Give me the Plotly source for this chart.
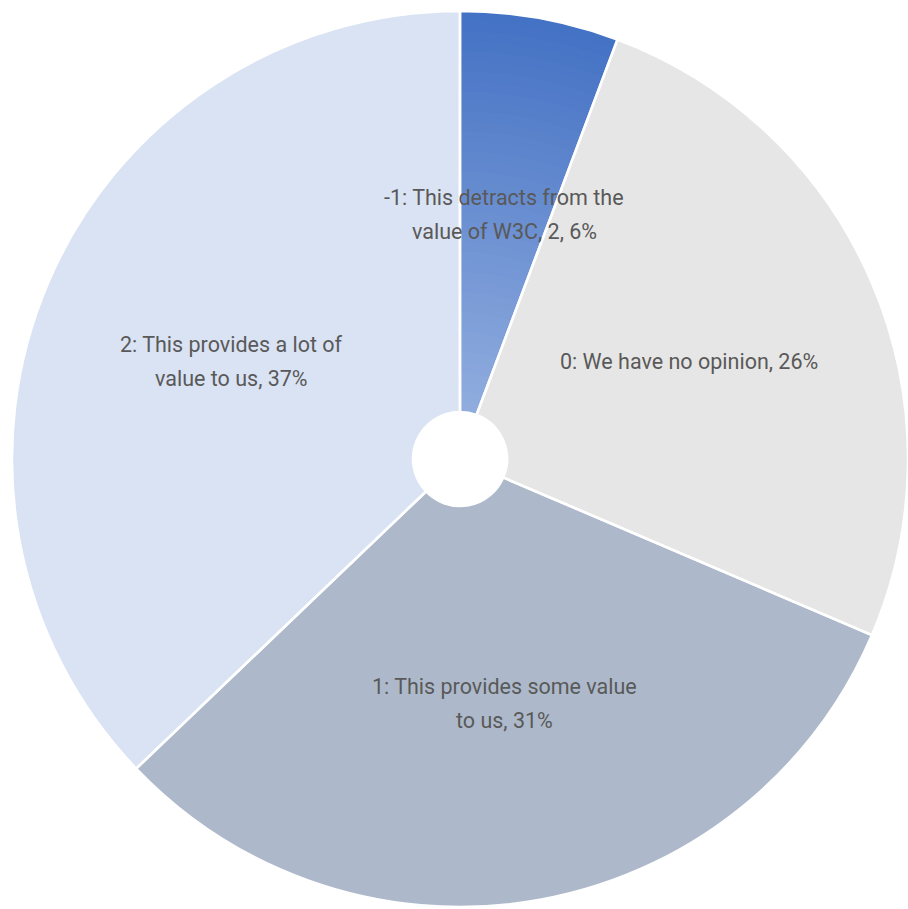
import math
import plotly.graph_objects as go

# Survey responses
labels = [
    "-1: This detracts from the value of W3C",
    "0: We have no opinion",
    "1: This provides some value to us",
    "2: This provides a lot of value to us",
]
counts = [2, 9, 11, 13]
label_lines = [
    ["-1: This detracts from the", "value of W3C, {n}, {p}%"],
    ["0: We have no opinion, {p}%"],
    ["1: This provides some value", "to us, {p}%"],
    ["2: This provides a lot of", "value to us, {p}%"],
]
slice_colors = ["#4472C4", "#E7E6E6", "#ADB9CA", "#DAE3F3"]
grad_top, grad_bottom = "#4472C4", "#90ACDE"

W, H = 908, 909
CX, CY, R = 460, 459, 448     # pie centre / radius in pixels
HOLE = 47                      # hole radius in pixels
LABEL_R = 249
LINE_GAP = 34
TEXT_COLOR = "#595959"
FONT = "Roboto"


def dom(r):
    return dict(x=[(CX - r) / W, (CX + r) / W],
                y=[1 - (CY + r) / H, 1 - (CY - r) / H])


def mix(c1, c2, t):
    a = [int(c1[i:i + 2], 16) for i in (1, 3, 5)]
    b = [int(c2[i:i + 2], 16) for i in (1, 3, 5)]
    return "rgb(%d,%d,%d)" % tuple(round(a[i] + (b[i] - a[i]) * t) for i in range(3))


common = dict(labels=labels, values=counts, sort=False, direction="clockwise",
              rotation=0, textinfo="none", hoverinfo="label+value+percent",
              showlegend=False)

fig = go.Figure()
# base pie
fig.add_trace(go.Pie(domain=dom(R), hole=HOLE / R,
                     marker=dict(colors=slice_colors, line=dict(color="white", width=0)),
                     **common))

# vertical-ish gradient on the first slice, drawn as thin rings
N = 40
clear = "rgba(0,0,0,0)"
for k in range(1, N):
    r = R - (R - HOLE) * k / N
    col = mix(grad_top, grad_bottom, k / (N - 1))
    fig.add_trace(go.Pie(domain=dom(r), hole=HOLE / r,
                         marker=dict(colors=[col, clear, clear, clear],
                                     line=dict(color=clear, width=0)),
                         **common))

# white separators on top
fig.add_trace(go.Pie(domain=dom(R), hole=HOLE / R,
                     marker=dict(colors=[clear] * 4, line=dict(color="white", width=2.5)),
                     **common))

# slice labels
total = sum(counts)
cum = 0
for n, lines in zip(counts, label_lines):
    mid = (cum + n / 2) / total * 2 * math.pi
    cum += n
    pct = round(100 * n / total)
    px = CX + LABEL_R * math.sin(mid)
    py = CY - LABEL_R * math.cos(mid)
    m = len(lines)
    for i, line in enumerate(lines):
        ly = py + (i - (m - 1) / 2) * LINE_GAP
        fig.add_annotation(x=px / W, y=1 - ly / H, xref="paper", yref="paper",
                           text=line.format(n=n, p=pct), showarrow=False,
                           xanchor="center", yanchor="middle",
                           font=dict(family=FONT, size=21.5, color=TEXT_COLOR))

fig.update_layout(width=W, height=H, margin=dict(l=0, r=0, t=0, b=0),
                  paper_bgcolor="white", plot_bgcolor="white")
fig.write_html("out.html")
